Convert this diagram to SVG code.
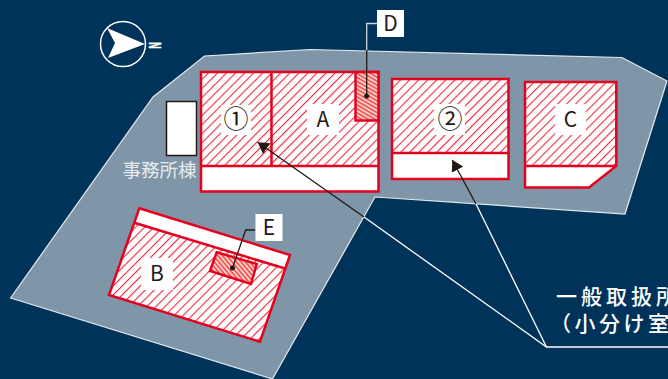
<svg xmlns="http://www.w3.org/2000/svg" width="668" height="379" viewBox="0 0 668 379">
<style>
.r{stroke:#e60020;stroke-width:2.5;fill:none}
.w{fill:#fff}
.lb{font-family:"Noto Sans CJK JP","Noto Sans",sans-serif;font-size:21px;fill:#231815;text-anchor:middle}
.cap{font-family:"Noto Sans CJK JP",sans-serif;fill:#fff;font-weight:500}
.k{stroke:#231815;stroke-width:1.3;fill:none}
.lw{stroke:#fff;stroke-width:1.3;fill:none}
</style>
<defs>
<pattern id="h" width="6.4" height="6.4" patternUnits="userSpaceOnUse" patternTransform="rotate(-45)"><rect width="6.4" height="6.4" fill="#fff"/><rect width="6.4" height="1.1" fill="#ee2a3c"/></pattern>
<pattern id="d" width="3.4" height="3.4" patternUnits="userSpaceOnUse" patternTransform="rotate(30)"><rect width="3.4" height="3.4" fill="#fbd0c4"/><rect width="3.4" height="1.5" fill="#ee4a50"/></pattern>
<pattern id="e" width="3.4" height="3.4" patternUnits="userSpaceOnUse" patternTransform="rotate(50)"><rect width="3.4" height="3.4" fill="#fbd0c4"/><rect width="3.4" height="1.5" fill="#ee4a50"/></pattern>
<marker id="a" markerUnits="userSpaceOnUse" markerWidth="13" markerHeight="14" refX="11" refY="6.5" orient="auto"><path d="M0 0L11 6.5 0 13z" fill="#231815"/></marker>
</defs>
<rect width="668" height="379" fill="#00335a"/>
<path id="site" d="M10.5 298L153 97 204.500 56 310 49.500 622 57.500 667 81 625 214 375 197 272.500 379z" fill="#7f96a8" stroke="#fff" stroke-width="1.200" stroke-opacity=".85"/>
<g id="north">
<circle cx="123" cy="44" r="22.500" fill="none" stroke="#fff" stroke-width="1.500"/>
<path d="M145 44L107 28 115 43 108 58z" fill="#fff"/>
<text transform="translate(148.500 45.500) rotate(90) scale(.55 1)" text-anchor="middle" font-family="Liberation Sans,sans-serif" font-weight="700" font-size="16" fill="#fff" stroke="#fff" stroke-width=".6">N</text>
</g>
<g id="office">
<rect x="166.500" y="101.500" width="30" height="54" fill="#fff" stroke="#231815" stroke-width="1.500"/>
<text x="159.500" y="177" text-anchor="middle" font-family="Noto Sans CJK JP,sans-serif" font-size="18.500" fill="#e8ecf0">事務所棟</text>
</g>
<g id="node-1A">
<rect x="201" y="72" width="177.500" height="119.500" class="w"/>
<rect x="201" y="72" width="177.500" height="94" fill="url(#h)"/>
<rect x="201" y="72" width="177.500" height="119.500" class="r"/>
<path d="M201 166H378.500M271.500 72V166" class="r"/>
<rect x="221" y="105" width="30" height="30" class="w"/>
<text x="236" y="128" class="lb" style="font-size:25px">①</text>
<rect x="307" y="104" width="32" height="31" class="w"/>
<text x="323" y="127" class="lb">A</text>
</g>
<g id="node-D">
<rect x="355.500" y="72" width="23" height="48.500" class="r" style="fill:url(#d)"/>
</g>
<g id="node-2">
<rect x="392" y="79" width="116.500" height="100" class="w"/>
<rect x="392" y="79" width="116.500" height="74" fill="url(#h)"/>
<rect x="392" y="79" width="116.500" height="100" class="r"/>
<path d="M392 153H508.500" class="r"/>
<rect x="434" y="104" width="31" height="31" class="w"/>
<text x="450" y="128" class="lb" style="font-size:25px">②</text>
</g>
<g id="node-C">
<path d="M525 82H616V166L589 187.500H525z" class="w"/>
<rect x="525" y="82" width="91.500" height="84" fill="url(#h)"/>
<path d="M525 82H616.300V166L589 187.500H525zM525 166H616" class="r"/>
<rect x="555" y="104" width="31" height="31" class="w"/>
<text x="570.500" y="127" class="lb">C</text>
</g>
<g id="node-B">
<path d="M139.300 208.300L290 255 260 341.700 109 295z" class="w"/>
<path d="M134.300 222.700L284.300 268.300 260 341.700 109 295z" fill="url(#h)"/>
<path d="M139.300 208.300L290 255 260 341.700 109 295zM134.300 222.700L284.300 268.300" class="r"/>
<rect x="141" y="258" width="32" height="32" class="w"/>
<text x="157" y="281" class="lb">B</text>
</g>
<g id="node-E">
<path d="M216.700 252.300L256.700 264 251 284 210 271z" class="r" style="fill:url(#e)"/>
</g>
<g id="connectors">
<path d="M366.700 96V50" class="k"/>
<path d="M366.700 50V23.500H377" class="lw" stroke-opacity=".8"/>
<circle cx="366.700" cy="96" r="2.500" fill="#231815"/>
<path d="M232.500 268L245.700 230H255" class="k"/>
<circle cx="232.500" cy="268" r="2.500" fill="#231815"/>
<path d="M364 217L257.700 142.300" class="k" marker-end="url(#a)"/>
<path d="M476 204L452.300 160" class="k" marker-end="url(#a)"/>
<path d="M668 347H546.500L364 217M546.500 347L476 204" class="lw"/>
</g>
<g id="label-D"><rect x="377" y="10" width="27" height="27" class="w"/><text x="390.500" y="31" class="lb">D</text></g>
<g id="label-E"><rect x="255.500" y="214" width="27" height="27" class="w"/><text x="269" y="235" class="lb">E</text></g>
<g id="caption">
<text x="556" y="304" class="cap" font-size="21" letter-spacing="4">一般取扱所</text>
<text x="550" y="331" class="cap" font-size="21" letter-spacing="3.500">（小分け室</text>
</g>
</svg>
